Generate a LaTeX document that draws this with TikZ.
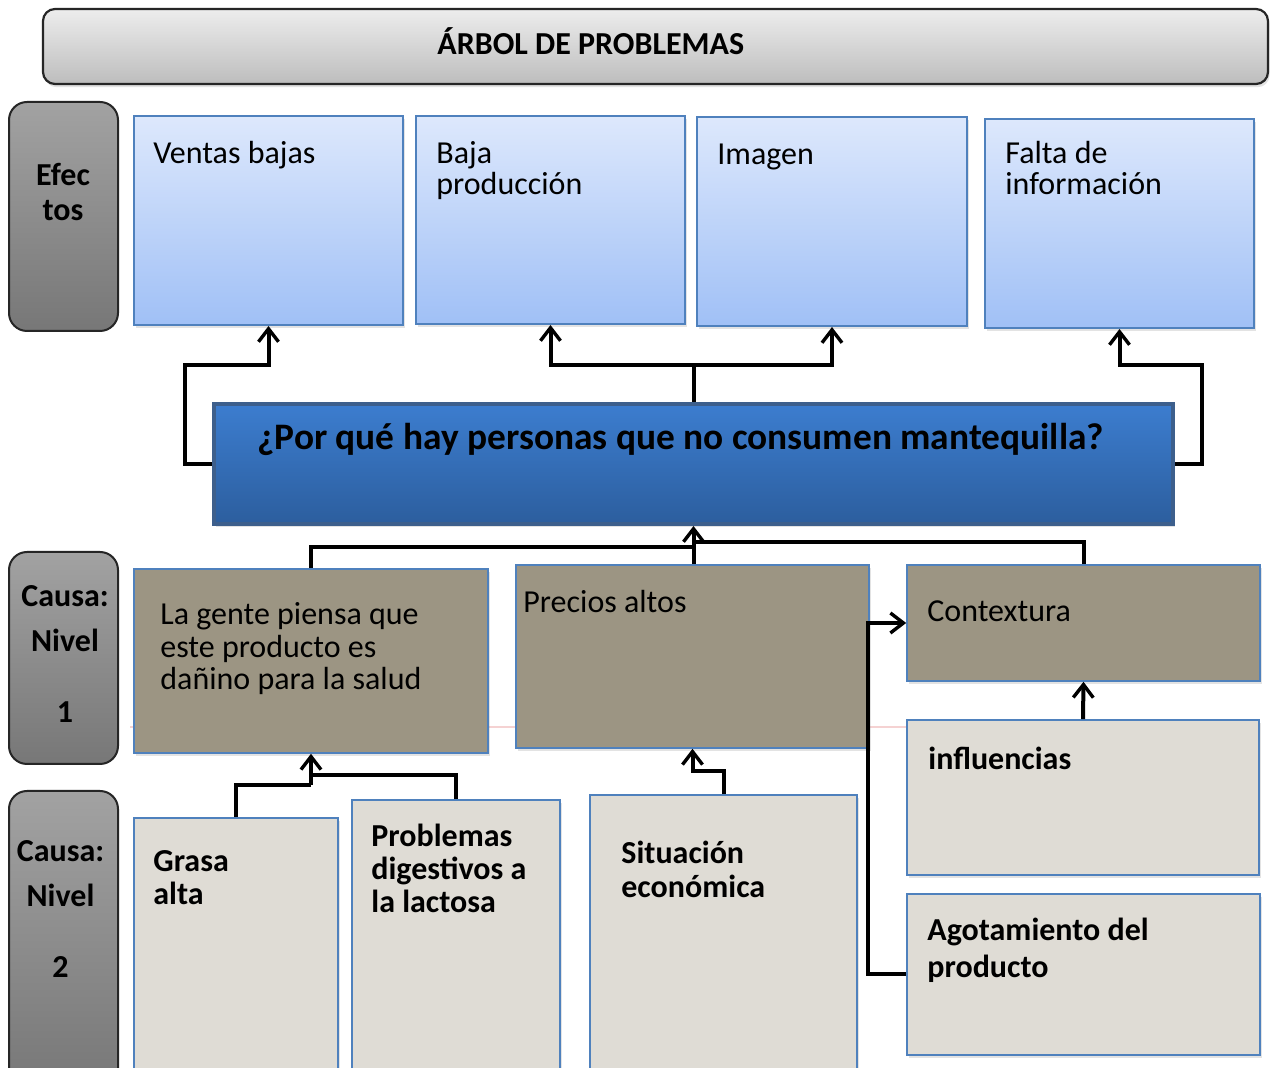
\documentclass[tikz,border=0pt]{standalone}
\usepackage{fontspec}
\setmainfont{Carlito}
\usetikzlibrary{fit,shadows,arrows.meta}

\definecolor{effTop}{HTML}{DDE8FC}
\definecolor{effBot}{HTML}{A0C0F6}
\definecolor{boxBorder}{HTML}{4F81BD}
\definecolor{qTop}{HTML}{3C7DCF}
\definecolor{qBot}{HTML}{2C5E9E}
\definecolor{qBorder}{HTML}{3D5F8C}
\definecolor{titleTop}{HTML}{EDEDED}
\definecolor{titleBot}{HTML}{BDBDBD}
\definecolor{sideTop}{HTML}{A2A2A2}
\definecolor{sideBot}{HTML}{777777}
\definecolor{causeOne}{HTML}{9C9583}
\definecolor{causeTwo}{HTML}{DFDCD5}
\definecolor{guidePink}{HTML}{F5D2D2}

\begin{document}
\begin{tikzpicture}[x=0.5pt,y=-0.5pt,
  softshadow/.style={drop shadow={shadow xshift=0.8pt,shadow yshift=-1.6pt,opacity=0.22}},
  titlebox/.style={draw=black!85,line width=1.1pt,rounded corners=6pt,top color=titleTop,bottom color=titleBot,inner sep=0pt,softshadow},
  side/.style={draw=black!85,line width=1pt,rounded corners=9pt,top color=sideTop,bottom color=sideBot,inner sep=0pt},
  sidetxt/.style={align=center,inner sep=0pt,font=\bfseries\fontsize{16}{22.5}\selectfont},
  effect/.style={draw=boxBorder,line width=1pt,top color=effTop,bottom color=effBot,inner sep=0pt,softshadow},
  question/.style={draw=qBorder,line width=2pt,top color=qTop,bottom color=qBot,inner sep=0pt,softshadow},
  lvlone/.style={draw=boxBorder,line width=0.8pt,fill=causeOne,inner sep=0pt,softshadow},
  lvltwo/.style={draw=boxBorder,line width=0.8pt,fill=causeTwo,inner sep=0pt,softshadow},
  txt/.style={anchor=base west,inner sep=0pt,font=\fontsize{16}{15.5}\selectfont},
  btxt/.style={anchor=base west,inner sep=0pt,font=\bfseries\fontsize{16}{16.5}\selectfont},
  conn/.style={draw=black,line width=2pt},
  arr/.style={conn,-{Straight Barb[length=6.5pt,width=10pt,line width=1.7pt]}},
  guide/.style={draw=guidePink,line width=0.8pt}]

\clip (0,0) rectangle (1276,1068);
\fill[white] (0,0) rectangle (1276,1068);

% faint horizontal guide behind the first cause row
\draw[guide] (130,727) -- (906,727);

% heading bar
\node[titlebox,fit={(43,9) (1268,84)}] (title) {};
\node[anchor=base west,inner sep=0pt,font=\bfseries\fontsize{16}{18}\selectfont] (titleT) at (437,55) {ÁRBOL DE PROBLEMAS};

% row labels on the left
\node[side,fit={(9,102) (118,331)}] (sideEf) {};
\node[sidetxt,font=\bfseries\fontsize{16}{17.5}\selectfont] (sideEfT) at (63,192) {Efec\\tos};
\node[side,fit={(9,552) (118,764)}] (sideOne) {};
\node[sidetxt] (sideOneT) at (65,654) {Causa:\\Nivel\\[13pt]1};
\node[side,fit={(9,791) (118,1090)}] (sideTwo) {};
\node[sidetxt] (sideTwoT) at (60.5,909) {Causa:\\Nivel\\[13pt]2};

% effects
\node[effect,fit={(134,116) (403,325)}] (ventas) {};
\node[txt] (ventasT) at (153,164) {\parbox[t]{240pt}{\raggedright Ventas bajas}};
\node[effect,fit={(416,116) (685,324)}] (bajap) {};
\node[txt] (bajapT) at (436,164) {\parbox[t]{240pt}{\raggedright Baja\\producción}};
\node[effect,fit={(697,117) (967,326)}] (imagen) {};
\node[txt] (imagenT) at (717,165) {\parbox[t]{240pt}{\raggedright Imagen}};
\node[effect,fit={(985,119) (1254,328)}] (falta) {};
\node[txt] (faltaT) at (1005,164) {\parbox[t]{240pt}{\raggedright Falta de\\información}};

% central problem
\node[question,fit={(214,404) (1173,524)}] (q) {};
\node[anchor=base west,inner sep=0pt,font=\bfseries\fontsize{18.7}{20}\selectfont] (qT) at (257,450) {¿Por qué hay personas que no consumen mantequilla?};

% causes, level 1
\node[lvlone,fit={(134,569) (488,753)}] (gente) {};
\node[txt,font=\fontsize{16}{16.25}\selectfont] (genteT) at (160,625) {\parbox[t]{300pt}{\raggedright La gente piensa que\\este producto es\\dañino para la salud}};
\node[lvlone,fit={(516,565) (869,748)}] (precios) {};
\node[txt] (preciosT) at (523,613) {\parbox[t]{300pt}{\raggedright Precios altos}};
\node[lvlone,fit={(907,565) (1260,681)}] (contex) {};
\node[txt] (contexT) at (927,622) {\parbox[t]{300pt}{\raggedright Contextura}};

% causes, level 2
\node[lvltwo,fit={(134,818) (338,1090)}] (grasa) {};
\node[btxt] (grasaT) at (153,872) {\parbox[t]{180pt}{\raggedright Grasa\\alta}};
\node[lvltwo,fit={(352,800) (560,1090)}] (problemas) {};
\node[btxt] (problemasT) at (371,847) {\parbox[t]{180pt}{\raggedright Problemas\\digestivos a\\la lactosa}};
\node[lvltwo,fit={(590,795) (857,1090)}] (sit) {};
\node[btxt,font=\bfseries\fontsize{16}{16.75}\selectfont] (sitT) at (621,864) {\parbox[t]{200pt}{\raggedright Situación\\económica}};
\node[lvltwo,fit={(907,720) (1259,875)}] (infl) {};
\node[btxt] (inflT) at (928,770) {\parbox[t]{300pt}{\raggedright influencias}};
\node[lvltwo,fit={(907,894) (1260,1055)}] (agot) {};
\node[btxt,font=\bfseries\fontsize{16}{18.5}\selectfont] (agotT) at (927,941) {\parbox[t]{300pt}{\raggedright Agotamiento del\\producto}};

% problem -> effects
\draw[arr] (q.west) -| (185,365) -| (ventas.south);
\draw[conn] (q.north) -- (q.north |- 0,365);
\draw[arr] (q.north |- 0,365) -| (bajap.south);
\draw[arr] (q.north |- 0,365) -| (imagen.south);
\draw[arr] (q.east) -| (1202,365) -| (falta.south);

% level 1 -> problem
\draw[conn] (gente.north) |- (q.south |- 0,547);
\draw[conn] (contex.north) |- (q.south |- 0,542);
\draw[arr] (q.south |- precios.north) -- (q.south);

% level 2 -> level 1
\draw[conn] (grasa.north) |- (gente.south |- 0,785);
\draw[conn] (problemas.north) |- (gente.south |- 0,775);
\draw[arr] (gente.south |- 0,785) -- (gente.south);
\draw[arr] (sit.north) |- (precios.south |- 0,771) -- (precios.south);
\draw[arr] (infl.north) -- (contex.south);
\draw[arr] (agot.west) -| (868,623) -- (contex.west);

\end{tikzpicture}
\end{document}
